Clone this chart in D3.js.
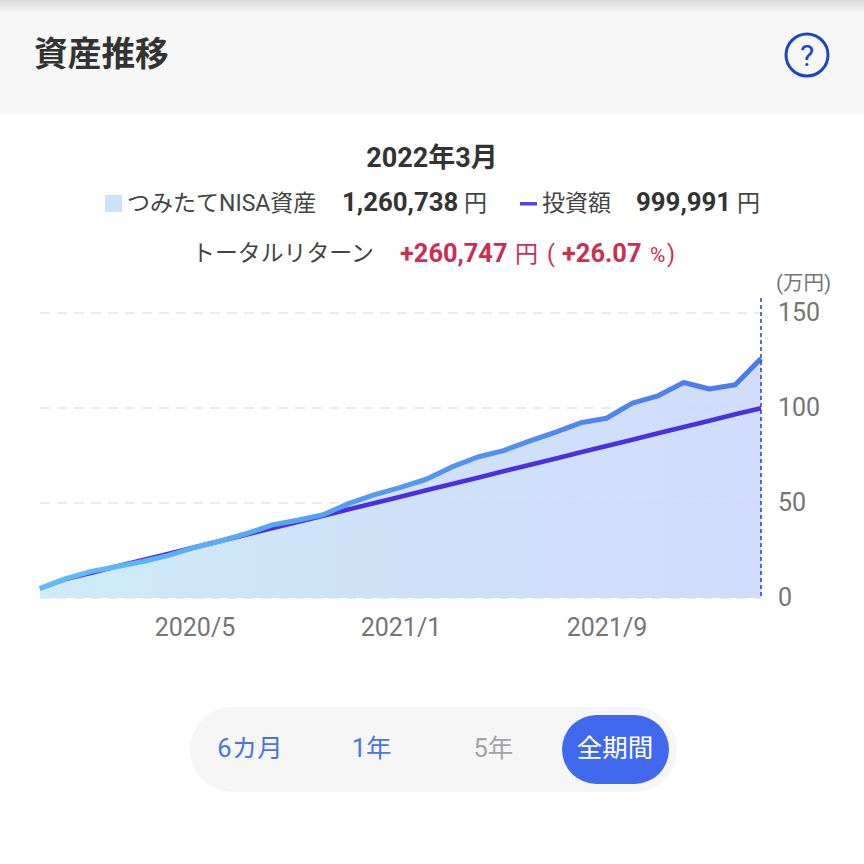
<!DOCTYPE html>
<html lang="ja">
<head>
<meta charset="utf-8">
<script src="https://cdn.jsdelivr.net/npm/d3@7"></script>
<style>
    html, body { margin: 0; padding: 0; background: #fff; }
    text { font-family: Roboto, "Noto Sans CJK JP", sans-serif; }
</style>
</head>
<body>
<div id="chart"></div>
<script>
/* 資産推移 chart, monthly values in 万円 */
const months = ["2019/11","2019/12","2020/1","2020/2","2020/3","2020/4","2020/5","2020/6","2020/7","2020/8",
    "2020/9","2020/10","2020/11","2020/12","2021/1","2021/2","2021/3","2021/4","2021/5","2021/6",
    "2021/7","2021/8","2021/9","2021/10","2021/11","2021/12","2022/1","2022/2","2022/3"];
const assets = [5.1, 10.2, 14.0, 16.6, 19.2, 22.4, 26.6, 30.0, 33.8, 38.4,
    40.9, 43.8, 49.8, 54.4, 58.2, 62.5, 69.0, 74.2, 77.6, 82.6,
    87.2, 92.2, 94.6, 102.6, 106.4, 113.4, 110.0, 112.2, 126.07];
const invested = [5.0, 10.0, 13.3, 16.7, 20.0, 23.3, 26.7, 30.0, 33.3, 36.7,
    40.0, 43.3, 46.7, 50.0, 53.3, 56.7, 60.0, 63.3, 66.7, 70.0,
    73.3, 76.7, 80.0, 83.3, 86.7, 90.0, 93.3, 96.7, 99.9];
const yTicks = [0, 50, 100, 150];
const xTicks = ["2020/5", "2021/1", "2021/9"];
const periods = ["6カ月", "1年", "5年", "全期間"];

const width = 864, height = 864,
    margin = ({top: 313, right: 103, bottom: 266, left: 40});

const svg = d3.select("#chart")
    .append("svg")
    .attr("width", width)
    .attr("height", height)
    .attr("viewBox", [0, 0, width, height])
    .style("display", "block");

const x = d3.scalePoint()
    .domain(months)
    .range([margin.left, width - margin.right]);

const y = d3.scaleLinear()
    .domain([0, 150])
    .range([height - margin.bottom, margin.top]);

const defs = svg.append("defs");

function hGradient(id, stops) {
    const g = defs.append("linearGradient")
        .attr("id", id)
        .attr("gradientUnits", "userSpaceOnUse")
        .attr("x1", margin.left).attr("x2", width - margin.right)
        .attr("y1", 0).attr("y2", 0);
    stops.forEach(s => g.append("stop").attr("offset", s[0]).attr("stop-color", s[1]));
}
hGradient("areaFill", [[0, "#c9e9f8"], [0.5, "#c9dff8"], [1, "#ccd9fb"]]);
hGradient("assetLine", [[0, "#5cc0f7"], [0.45, "#549cf2"], [1, "#4a78ec"]]);

// header band with soft shadow at the very top
const shade = defs.append("linearGradient")
    .attr("id", "topShade").attr("x1", 0).attr("x2", 0).attr("y1", 0).attr("y2", 1);
shade.append("stop").attr("offset", 0).attr("stop-color", "#dcdcdc");
shade.append("stop").attr("offset", 1).attr("stop-color", "#f7f7f7");

svg.append("rect").attr("width", width).attr("height", 114).attr("fill", "#f7f7f7");
svg.append("rect").attr("width", width).attr("height", 14).attr("fill", "url(#topShade)");

function label(txt, px, py, size, color, weight, anchor) {
    return svg.append("text")
        .attr("x", px).attr("y", py)
        .attr("font-size", size)
        .attr("fill", color)
        .attr("font-weight", weight || 400)
        .attr("text-anchor", anchor || "start")
        .text(txt);
}

label("資産推移", 34, 66, 33.7, "#333333", 700);

svg.append("circle")
    .attr("cx", 807).attr("cy", 55).attr("r", 21)
    .attr("fill", "none").attr("stroke", "#1f45c0").attr("stroke-width", 3);
label("?", 807, 66, 30, "#1f45c0", 400, "middle");

label("2022年3月", 432, 167, 27, "#333333", 700, "middle");

// legend row
svg.append("rect").attr("x", 105).attr("y", 195).attr("width", 17).attr("height", 17).attr("fill", "#cbe2fa");
label("つみたてNISA資産", 127, 211, 23, "#444444");
label("1,260,738", 342, 211, 25.8, "#333333", 700);
label("円", 464, 211, 23, "#444444");
svg.append("rect").attr("x", 520).attr("y", 202).attr("width", 17).attr("height", 3.5).attr("fill", "#5d3fe6");
label("投資額", 542, 211, 23, "#444444");
label("999,991", 636, 211, 25.8, "#333333", 700);
label("円", 737, 211, 23, "#444444");

// total return row
label("トータルリターン", 192, 261, 22.9, "#444444");
label("+260,747", 400, 262, 25.4, "#cc2e50", 700);
label("円", 515, 262, 23, "#cc2e50");
label("(", 547, 262, 23, "#cc2e50");
label("+26.07", 562, 262, 25.4, "#cc2e50", 700);
label("%", 650, 262, 21, "#cc2e50");
label(")", 667, 262, 23, "#cc2e50");

label("(万円)", 776, 290, 20.5, "#757575");

// grid
svg.append("g")
    .selectAll("line")
    .data(yTicks)
    .join("line")
    .attr("x1", margin.left).attr("x2", width - margin.right)
    .attr("y1", d => y(d)).attr("y2", d => y(d))
    .attr("stroke", "#ececec")
    .attr("stroke-width", 2)
    .attr("stroke-dasharray", "10 7");

const series = months.map((m, i) => ({month: m, asset: assets[i], inv: invested[i]}));

svg.append("path")
    .datum(series)
    .attr("fill", "url(#areaFill)")
    .attr("fill-opacity", 0.9)
    .attr("d", d3.area().x(d => x(d.month)).y0(y(0)).y1(d => y(d.asset)));

svg.append("path")
    .datum(series)
    .attr("fill", "none")
    .attr("stroke", "#4a30e0")
    .attr("stroke-width", 4.5)
    .attr("d", d3.line().x(d => x(d.month)).y(d => y(d.inv)));

svg.append("path")
    .datum(series)
    .attr("fill", "none")
    .attr("stroke", "url(#assetLine)")
    .attr("stroke-width", 5)
    .attr("stroke-linejoin", "round")
    .attr("d", d3.line().x(d => x(d.month)).y(d => y(d.asset)));

// cursor on the last month
const last = months[months.length - 1];
svg.append("line")
    .attr("x1", x(last)).attr("x2", x(last))
    .attr("y1", 298).attr("y2", y(0))
    .attr("stroke", "#2040c0")
    .attr("stroke-width", 1.5)
    .attr("stroke-dasharray", "4 3");

// axes
const xAxis = g => g
    .attr("transform", `translate(0, ${height - margin.bottom})`)
    .call(d3.axisBottom(x).tickValues(xTicks).tickSize(0).tickPadding(20))
    .call(g => g.select(".domain").remove());

const yAxis = g => g
    .attr("transform", `translate(${width - margin.right}, -1)`)
    .call(d3.axisRight(y).tickValues(yTicks).tickSize(0).tickPadding(17))
    .call(g => g.select(".domain").remove());

[svg.append("g").call(xAxis), svg.append("g").call(yAxis)].forEach(g => {
    g.attr("font-family", null);
    g.selectAll("text").attr("font-size", 25).attr("fill", "#757575");
});

// period selector
svg.append("rect")
    .attr("x", 190).attr("y", 707).attr("width", 487).attr("height", 85).attr("rx", 42.5)
    .attr("fill", "#f6f6f6");
svg.append("rect")
    .attr("x", 562).attr("y", 715).attr("width", 107).attr("height", 69).attr("rx", 34.5)
    .attr("fill", "#4169ee");

const periodX = d3.scalePoint().domain(periods).range([250, 615]);
const periodColor = d3.scaleOrdinal().domain(periods).range(["#4a74e0", "#4a74e0", "#a3a3a3", "#ffffff"]);

svg.append("g")
    .selectAll("text")
    .data(periods)
    .join("text")
    .attr("x", d => periodX(d))
    .attr("y", 757)
    .attr("text-anchor", "middle")
    .attr("font-size", 25.5)
    .attr("fill", d => periodColor(d))
    .text(d => d);
</script>
</body>
</html>
